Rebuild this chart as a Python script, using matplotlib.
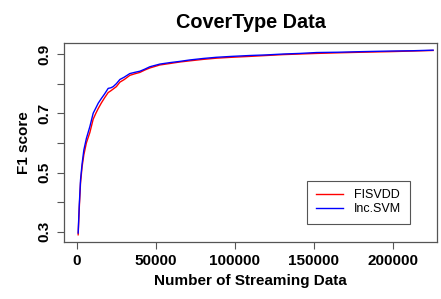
import matplotlib.pyplot as plt
import numpy as np

plt.rcParams['font.family'] = ['Liberation Sans', 'DejaVu Sans']

# Data
x_inc = [800, 1500, 2300, 3300, 4400, 6000, 8200, 10300, 12000, 13500, 15500,
         17500, 19800, 21500, 23000, 25000, 27200, 30000, 33500, 36500, 39900,
         43000, 46200, 52500, 58900, 65000, 71500, 80000, 88400, 98000, 109500,
         120000, 130600, 141000, 151700, 165000, 180000, 198100, 212000, 225500]
y_inc = [0.296, 0.39, 0.475, 0.53, 0.576, 0.615, 0.655, 0.700, 0.718, 0.734, 0.750,
         0.765, 0.784, 0.786, 0.790, 0.800, 0.814, 0.822, 0.834, 0.838, 0.842,
         0.849, 0.857, 0.866, 0.871, 0.875, 0.880, 0.885, 0.889, 0.892, 0.895,
         0.897, 0.900, 0.902, 0.905, 0.906, 0.908, 0.910, 0.911, 0.913]

x_fis = [800, 1500, 2300, 3300, 4400, 6000, 8200, 10300, 12000, 13500, 15500,
         17500, 19800, 21500, 23000, 25000, 27200, 30000, 33500, 36500, 39900,
         43000, 46200, 52500, 58900, 65000, 71500, 80000, 88400, 98000, 109500,
         120000, 130600, 141000, 151700, 165000, 180000, 198100, 212000, 225500]
y_fis = [0.290, 0.38, 0.465, 0.52, 0.560, 0.600, 0.635, 0.680, 0.700, 0.716, 0.735,
         0.752, 0.770, 0.776, 0.782, 0.790, 0.805, 0.814, 0.828, 0.833, 0.838,
         0.846, 0.853, 0.863, 0.868, 0.873, 0.877, 0.882, 0.886, 0.889, 0.892,
         0.895, 0.898, 0.900, 0.902, 0.904, 0.906, 0.908, 0.910, 0.912]

x_ticks = [0, 50000, 100000, 150000, 200000]
y_ticks = [0.3, 0.4, 0.5, 0.6, 0.7, 0.8, 0.9]
y_labels = ['0.3', '', '0.5', '', '0.7', '', '0.9']

fig = plt.figure(figsize=(4.41, 2.99), dpi=100)
ax = fig.add_axes([0.145, 0.191, 0.846, 0.665])

ax.plot(x_fis, y_fis, color='red', linewidth=1.0, label='FISVDD')
ax.plot(x_inc, y_inc, color='blue', linewidth=1.0, label='Inc.SVM')

ax.set_xlim(-8200, 228000)
ax.set_ylim(0.266, 0.937)

ax.set_xticks(x_ticks)
ax.set_xticklabels([str(v) for v in x_ticks], fontweight='bold', fontsize=11)
ax.set_yticks(y_ticks)
ax.set_yticklabels(y_labels, fontweight='bold', fontsize=11, rotation=90, va='center')
ax.tick_params(direction='out', length=5, width=0.8, color='#555555', pad=4)

for s in ax.spines.values():
    s.set_color('#555555')
    s.set_linewidth(0.9)

ax.set_title('CoverType Data', fontweight='bold', fontsize=14.3, pad=11)
ax.set_xlabel('Number of Streaming Data', fontweight='bold', fontsize=11, labelpad=4)
ax.set_ylabel('F1 score', fontweight='bold', fontsize=11, labelpad=5)

leg = ax.legend(loc='lower right', bbox_to_anchor=(0.928, 0.09), fontsize=9,
                fancybox=False, framealpha=1, edgecolor='#555555',
                handlelength=2.2, handletextpad=0.9, borderpad=0.7,
                labelspacing=0.15, borderaxespad=0)
leg.get_frame().set_linewidth(0.8)

fig.savefig('out.png', dpi=100)
